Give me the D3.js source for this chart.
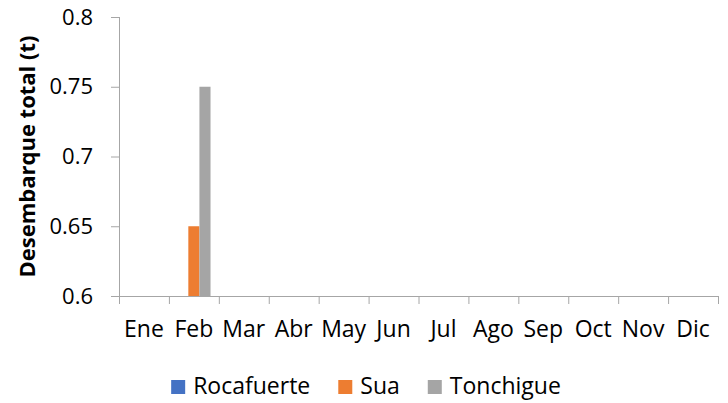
<!DOCTYPE html>
<html>
<head>
<meta charset="utf-8">
<script src="https://cdn.jsdelivr.net/npm/d3@7"></script>
<style>
  body { margin: 0; background: #fff; }
  svg { display: block; font-family: "Open Sans", "Noto Sans", sans-serif; }
</style>
</head>
<body>
<svg id="chart"></svg>
<script>
// months on the x axis
var months = ["Ene", "Feb", "Mar", "Abr", "May", "Jun", "Jul", "Ago", "Sep", "Oct", "Nov", "Dic"];
// landings per port (t), only Feb has values above the axis minimum
var rocafuerte = [0, 0, 0, 0, 0, 0, 0, 0, 0, 0, 0, 0];
var sua = [0, 0.65, 0, 0, 0, 0, 0, 0, 0, 0, 0, 0];
var tonchigue = [0, 0.75, 0, 0, 0, 0, 0, 0, 0, 0, 0, 0];
var seriesNames = ["Rocafuerte", "Sua", "Tonchigue"];
var yTicks = [0.6, 0.65, 0.7, 0.75, 0.8];
var yTickLabels = ["0.6", "0.65", "0.7", "0.75", "0.8"];

var colors = ["#4472C4", "#ED7D31", "#A5A5A5"];
var allSeries = [rocafuerte, sua, tonchigue];

var width = 728, height = 403;
var margin = {top: 17, right: 10, bottom: 107, left: 119};
var plotW = width - margin.left - margin.right;   // ~599
var plotH = height - margin.top - margin.bottom;  // ~279

var svg = d3.select("#chart")
    .attr("width", width)
    .attr("height", height);

var g = svg.append("g")
    .attr("transform", "translate(" + margin.left + "," + margin.top + ")");

// category scale, ticks sit on the band edges like excel
var x0 = d3.scaleBand().domain(months).range([0, plotW]).padding(0);
// series inside each month, gap width 150%
var x1 = d3.scaleBand().domain(seriesNames).range([0, x0.bandwidth()])
    .paddingInner(0).paddingOuter(0.75);
var y = d3.scaleLinear().domain([0.6, 0.8]).range([plotH, 0]);

// table of bars built from the arrays
var bars = [];
months.forEach(function(m, i) {
  seriesNames.forEach(function(s, j) {
    bars.push({month: m, series: s, value: allSeries[j][i], color: colors[j]});
  });
});

g.selectAll("rect.bar")
  .data(bars.filter(function(d) { return d.value > 0.6; }))
  .enter()
  .append("rect")
  .attr("class", "bar")
  .attr("x", function(d) { return x0(d.month) + x1(d.series); })
  .attr("width", x1.bandwidth())
  .attr("y", function(d) { return y(d.value); })
  .attr("height", function(d) { return plotH - y(d.value); })
  .attr("fill", function(d) { return d.color; });

var axisColor = "#a6a6a6";

// y axis
var yAxis = g.append("g")
  .call(d3.axisLeft(y)
    .tickValues(yTicks)
    .tickSize(8)
    .tickPadding(18)
    .tickFormat(function(d, i) { return yTickLabels[i]; }))
  .attr("font-family", null).attr("font-size", 22);
yAxis.selectAll("text").attr("fill", "#000");
yAxis.selectAll("line").attr("stroke", axisColor);
yAxis.select(".domain").attr("stroke", axisColor).attr("d", "M0.5," + plotH + "V0");

// x axis tick marks at the month boundaries
var edge = d3.scaleLinear().domain([0, months.length]).range([0, plotW]);
var xTicks = g.append("g")
  .attr("transform", "translate(0," + plotH + ")")
  .call(d3.axisBottom(edge)
    .tickValues(d3.range(months.length + 1))
    .tickSize(8)
    .tickFormat(""));
xTicks.selectAll("line").attr("stroke", axisColor);
xTicks.select(".domain").attr("stroke", axisColor).attr("d", "M0," + 0.5 + "H" + plotW);

// month labels
var xLabels = g.append("g")
  .attr("transform", "translate(0," + plotH + ")")
  .call(d3.axisBottom(x0).tickSize(0).tickPadding(25))
  .attr("font-family", null).attr("font-size", 23);
xLabels.select(".domain").remove();
xLabels.selectAll("text").attr("fill", "#000");

// y axis title
svg.append("text")
  .attr("transform", "translate(35," + (margin.top + plotH / 2) + ") rotate(-90)")
  .attr("text-anchor", "middle")
  .attr("font-size", 22)
  .attr("font-weight", "bold")
  .text("Desembarque total (t)");

// legend
var legend = svg.append("g").attr("transform", "translate(0,394)");
var items = legend.selectAll("g")
  .data(seriesNames)
  .enter()
  .append("g");
items.append("rect")
  .attr("y", -14)
  .attr("width", 14)
  .attr("height", 14)
  .attr("fill", function(d, i) { return colors[i]; });
items.append("text")
  .attr("x", 22)
  .attr("font-size", 23)
  .text(function(d) { return d; });

// place legend items one after the other, centred on the page
var offs = [], cur = 0;
items.each(function() {
  offs.push(cur);
  cur += 22 + this.querySelector("text").getComputedTextLength() + 28;
});
var total = cur - 28;
var start = width / 2 + 2 - total / 2;
items.attr("transform", function(d, i) { return "translate(" + (start + offs[i]) + ",0)"; });
</script>
</body>
</html>
